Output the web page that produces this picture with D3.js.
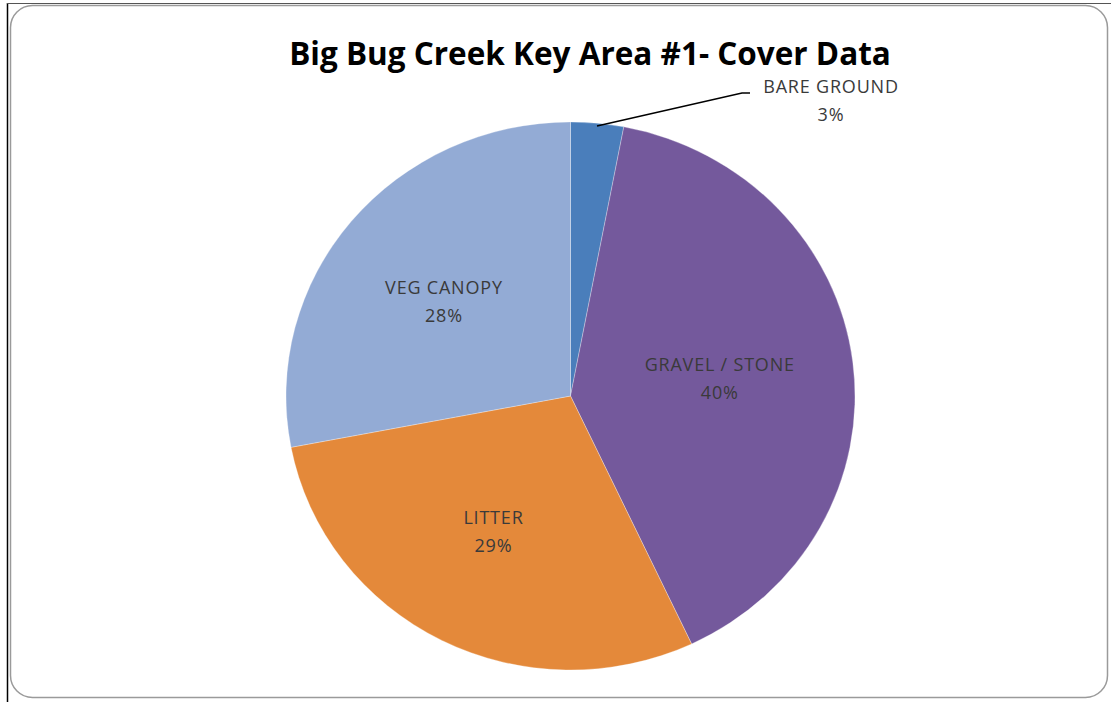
<!DOCTYPE html>
<html><head><meta charset="utf-8">
<script src="https://cdn.jsdelivr.net/npm/d3@7"></script>
<style>html,body{margin:0;padding:0;background:#fff;}svg{display:block;}</style>
</head><body>
<svg id="chart" width="1111" height="702"></svg>
<script>
const categories = ["BARE GROUND", "GRAVEL / STONE", "LITTER", "VEG CANOPY"];
const values = [3, 40, 29, 28];
const percentLabels = ["3%", "40%", "29%", "28%"];
const colors = ["#4A7EBB", "#74599C", "#E4893A", "#93ABD5"];
const title = "Big Bug Creek Key Area #1- Cover Data";

const svg = d3.select("#chart");
// page frame
svg.append("line").attr("x1",7.5).attr("y1",3).attr("x2",7.5).attr("y2",702).attr("stroke","#000").attr("stroke-width",1.5);
svg.append("line").attr("x1",7).attr("y1",3.5).attr("x2",1111).attr("y2",3.5).attr("stroke","#555").attr("stroke-width",1);
// chart border
svg.append("rect").attr("x",10.5).attr("y",5.5).attr("width",1097).attr("height",692).attr("rx",22).attr("ry",22)
  .attr("fill","#fff").attr("stroke","#9a9a9a").attr("stroke-width",1.5);

svg.append("text").attr("x",590).attr("y",65).attr("text-anchor","middle")
  .attr("font-family","'Open Sans', sans-serif").attr("font-weight","bold").attr("font-size",31.5).attr("fill","#000")
  .text(title);

const cx = 570.5, cy = 396, rx = 284.5, ry = 274;
const pie = d3.pie().sort(null).value(d => d.v);
const data = pie(categories.map((c,i)=>({c, v: values[i], p: percentLabels[i], col: colors[i]})));
const arc = d3.arc().innerRadius(0).outerRadius(rx);
const g = svg.append("g").attr("transform", `translate(${cx},${cy}) scale(1,${ry/rx})`);
g.selectAll("path").data(data).join("path").attr("d", arc).attr("fill", d => d.data.col)
  .attr("stroke","#fff").attr("stroke-width",0.3);

const labelArc = d3.arc().innerRadius(rx*0.55).outerRadius(rx*0.55);
const lab = svg.append("g").attr("font-family","'Open Sans', sans-serif").attr("font-size",18)
  .attr("letter-spacing","0.8px").attr("fill","#3a3a3a").attr("text-anchor","middle");
data.forEach((d,i) => {
  let x, y;
  if (i === 0) {
    x = 831; y = 93;
    const a = (d.startAngle + d.endAngle)/2;
    const ex = cx + rx*Math.sin(a)*0.99, ey = cy - ry*Math.cos(a)*0.99;
    svg.append("polyline").attr("points", `${ex},${ey} 742,93 750,93`).attr("fill","none").attr("stroke","#000").attr("stroke-width",1.5);
  } else {
    const c = labelArc.centroid(d);
    x = cx + c[0] - 6; y = cy + c[1]*ry/rx - 6;
  }
  lab.append("text").attr("x",x).attr("y",y).text(d.data.c);
  lab.append("text").attr("x",x).attr("y",y+28).text(d.data.p);
});
</script>
</body></html>
